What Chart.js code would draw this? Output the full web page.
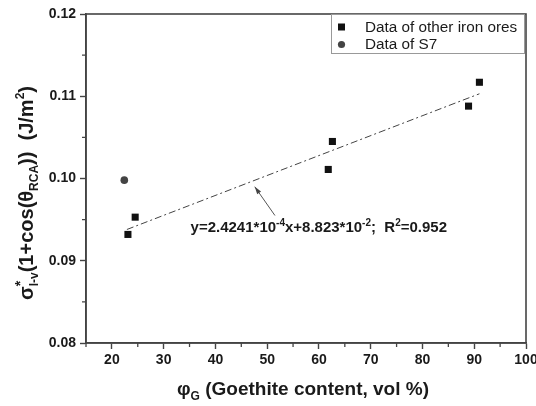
<!DOCTYPE html>
<html><head><meta charset="utf-8">
<script src="https://cdn.jsdelivr.net/npm/chart.js@4/dist/chart.umd.min.js"></script>
<style>html,body{margin:0;padding:0;background:#fff}#wrap{width:536px;height:406px}</style>
</head><body><div id="wrap"><canvas id="c" width="536" height="406"></canvas></div>
<script>
// ---- data ----
const otherX = [23.1, 24.5, 61.8, 62.6, 88.9, 91.0];
const otherY = [0.0932, 0.0953, 0.1011, 0.1045, 0.1088, 0.1117];
const s7X = [22.4];
const s7Y = [0.0998];
const fitX = [22.9, 91.0];
const fitY = [0.0938, 0.1103];
const xMajorTicks = [20, 30, 40, 50, 60, 70, 80, 90, 100];
const xMinorTicks = [15, 25, 35, 45, 55, 65, 75, 85, 95];
const yMajorTicks = [0.08, 0.09, 0.10, 0.11, 0.12];
const yMinorTicks = [0.085, 0.095, 0.105, 0.115];
const legendLabels = ['Data of other iron ores', 'Data of S7'];
const arrowFrom = [51.5, 0.0955];
const arrowTo = [47.6, 0.0990];
const eqAnchor = [35.2, 0.0935];

const FONT = "'Liberation Sans', Arial, sans-serif";
const pts = (xs, ys) => xs.map((x, i) => ({x, y: ys[i]}));

function richWidth(ctx, parts) {
  let w = 0;
  for (const p of parts) {
    ctx.font = 'bold ' + p.s + 'px ' + FONT;
    if (!p.over) w += ctx.measureText(p.t).width;
  }
  return w;
}
function drawRich(ctx, parts, x, y) {
  let cx = x; let lastX = x;
  for (const p of parts) {
    ctx.font = 'bold ' + p.s + 'px ' + FONT;
    const m = ctx.measureText(p.t).width;
    if (p.over) { ctx.fillText(p.t, lastX, y + (p.dy || 0)); continue; }
    ctx.fillText(p.t, cx, y + (p.dy || 0));
    lastX = cx;
    cx += m;
  }
  return cx - x;
}

const decor = {
  id: 'decor',
  afterDraw(chart) {
    const ctx = chart.ctx;
    const a = chart.chartArea;
    const xs = chart.scales.x, ys = chart.scales.y;
    ctx.save();
    // frame
    ctx.strokeStyle = '#444'; ctx.lineWidth = 1.6;
    ctx.strokeRect(a.left, a.top, a.right - a.left, a.bottom - a.top);
    // minor ticks
    ctx.lineWidth = 1.3;
    ctx.beginPath();
    for (const v of xMinorTicks) { const px = xs.getPixelForValue(v); ctx.moveTo(px, a.bottom); ctx.lineTo(px, a.bottom + 4); }
    for (const v of yMinorTicks) { const py = ys.getPixelForValue(v); ctx.moveTo(a.left, py); ctx.lineTo(a.left - 4, py); }
    ctx.stroke();

    ctx.fillStyle = '#1a1a1a';
    ctx.textBaseline = 'alphabetic';
    ctx.textAlign = 'left';
    // x title
    const xParts = [{t:'φ', s:19}, {t:'G', s:12, dy:5}, {t:' (Goethite content, vol %)', s:19}];
    const xw = richWidth(ctx, xParts);
    drawRich(ctx, xParts, 303 - xw / 2, 395);
    // y title
    const yParts = [{t:'σ', s:20}, {t:'l-v', s:12, dy:5}, {t:'*', s:14, dy:-8, over:true},
      {t:'(1+cos(θ', s:20}, {t:'RCA', s:12, dy:5}, {t:'))  (J/m', s:20}, {t:'2', s:12, dy:-9}, {t:')', s:20}];
    const yw = richWidth(ctx, yParts);
    ctx.save();
    ctx.translate(33, 193);
    ctx.rotate(-Math.PI / 2);
    drawRich(ctx, yParts, -yw / 2, 0);
    ctx.restore();

    // equation annotation
    const eqParts = [{t:'y=2.4241*10', s:15}, {t:'-4', s:10, dy:-6}, {t:'x+8.823*10', s:15}, {t:'-2', s:10, dy:-6},
      {t:';  R', s:15}, {t:'2', s:10, dy:-6}, {t:'=0.952', s:15}];
    drawRich(ctx, eqParts, xs.getPixelForValue(eqAnchor[0]), ys.getPixelForValue(eqAnchor[1]));

    // arrow
    const fx = xs.getPixelForValue(arrowFrom[0]), fy = ys.getPixelForValue(arrowFrom[1]);
    const tx = xs.getPixelForValue(arrowTo[0]), ty = ys.getPixelForValue(arrowTo[1]);
    ctx.strokeStyle = '#555'; ctx.lineWidth = 1;
    ctx.beginPath(); ctx.moveTo(fx, fy); ctx.lineTo(tx, ty); ctx.stroke();
    const ang = Math.atan2(ty - fy, tx - fx);
    ctx.fillStyle = '#444';
    ctx.beginPath();
    ctx.moveTo(tx, ty);
    ctx.lineTo(tx - 8 * Math.cos(ang - 0.3), ty - 8 * Math.sin(ang - 0.3));
    ctx.lineTo(tx - 8 * Math.cos(ang + 0.3), ty - 8 * Math.sin(ang + 0.3));
    ctx.closePath(); ctx.fill();

    // legend
    const lw = 193, lh = 39;
    const lx = a.right - lw - 2, ly = a.top;
    ctx.fillStyle = '#fff';
    ctx.fillRect(lx, ly, lw, lh);
    ctx.strokeStyle = '#999'; ctx.lineWidth = 1;
    ctx.strokeRect(lx + 0.5, ly + 0.5, lw, lh);
    ctx.font = '15.3px ' + FONT;
    ctx.textBaseline = 'middle';
    const rows = [ly + 13, ly + 30.5];
    ctx.fillStyle = '#111';
    ctx.fillRect(lx + 7, rows[0] - 3.5, 7, 7);
    ctx.fillStyle = '#444';
    ctx.beginPath(); ctx.arc(lx + 10.5, rows[1], 3.6, 0, Math.PI * 2); ctx.fill();
    ctx.fillStyle = '#1a1a1a';
    ctx.fillText(legendLabels[0], lx + 34, rows[0] + 0.5);
    ctx.fillText(legendLabels[1], lx + 34, rows[1] + 0.5);
    ctx.restore();
  }
};

new Chart(document.getElementById('c'), {
  type: 'scatter',
  data: {
    datasets: [
      { label: legendLabels[0], data: pts(otherX, otherY), pointStyle: 'rect', pointRadius: 5, pointHoverRadius: 5,
        backgroundColor: '#111', borderColor: '#111', borderWidth: 0 },
      { label: legendLabels[1], data: pts(s7X, s7Y), pointStyle: 'circle', pointRadius: 3.8, pointHoverRadius: 3.8,
        backgroundColor: '#444', borderColor: '#444', borderWidth: 0 },
      { label: 'fit', type: 'line', data: pts(fitX, fitY), showLine: true, pointRadius: 0,
        borderColor: '#444', borderWidth: 1, borderDash: [7, 3, 2, 3], fill: false }
    ]
  },
  options: {
    responsive: false, animation: false,
    devicePixelRatio: 1,
    layout: { padding: { top: 14, right: 10, left: 0, bottom: 0 }, autoPadding: false },
    plugins: { legend: { display: false }, tooltip: { enabled: false } },
    scales: {
      x: {
        type: 'linear', min: 15, max: 100,
        afterBuildTicks(s) { s.ticks = xMajorTicks.map(v => ({value: v})); },
        afterFit(s) { s.height = 63; s.paddingLeft = 0; s.paddingRight = 0; },
        grid: { drawOnChartArea: false, drawTicks: true, tickLength: 6, tickColor: '#444', tickWidth: 1.4 },
        border: { display: true, color: '#444', width: 1.6 },
        ticks: { color: '#1a1a1a', font: { family: FONT, size: 14, weight: 'bold' }, padding: 3, maxRotation: 0,
          callback: v => String(v) }
      },
      y: {
        type: 'linear', min: 0.08, max: 0.12,
        afterBuildTicks(s) { s.ticks = yMajorTicks.map(v => ({value: v})); },
        afterFit(s) { s.width = 86; s.paddingTop = 0; s.paddingBottom = 0; },
        grid: { drawOnChartArea: false, drawTicks: true, tickLength: 6, tickColor: '#444', tickWidth: 1.4 },
        border: { display: true, color: '#444', width: 1.6 },
        ticks: { color: '#1a1a1a', font: { family: FONT, size: 14, weight: 'bold' }, padding: 4,
          callback: v => Number(v).toFixed(2) }
      }
    }
  },
  plugins: [decor]
});
</script></body></html>
